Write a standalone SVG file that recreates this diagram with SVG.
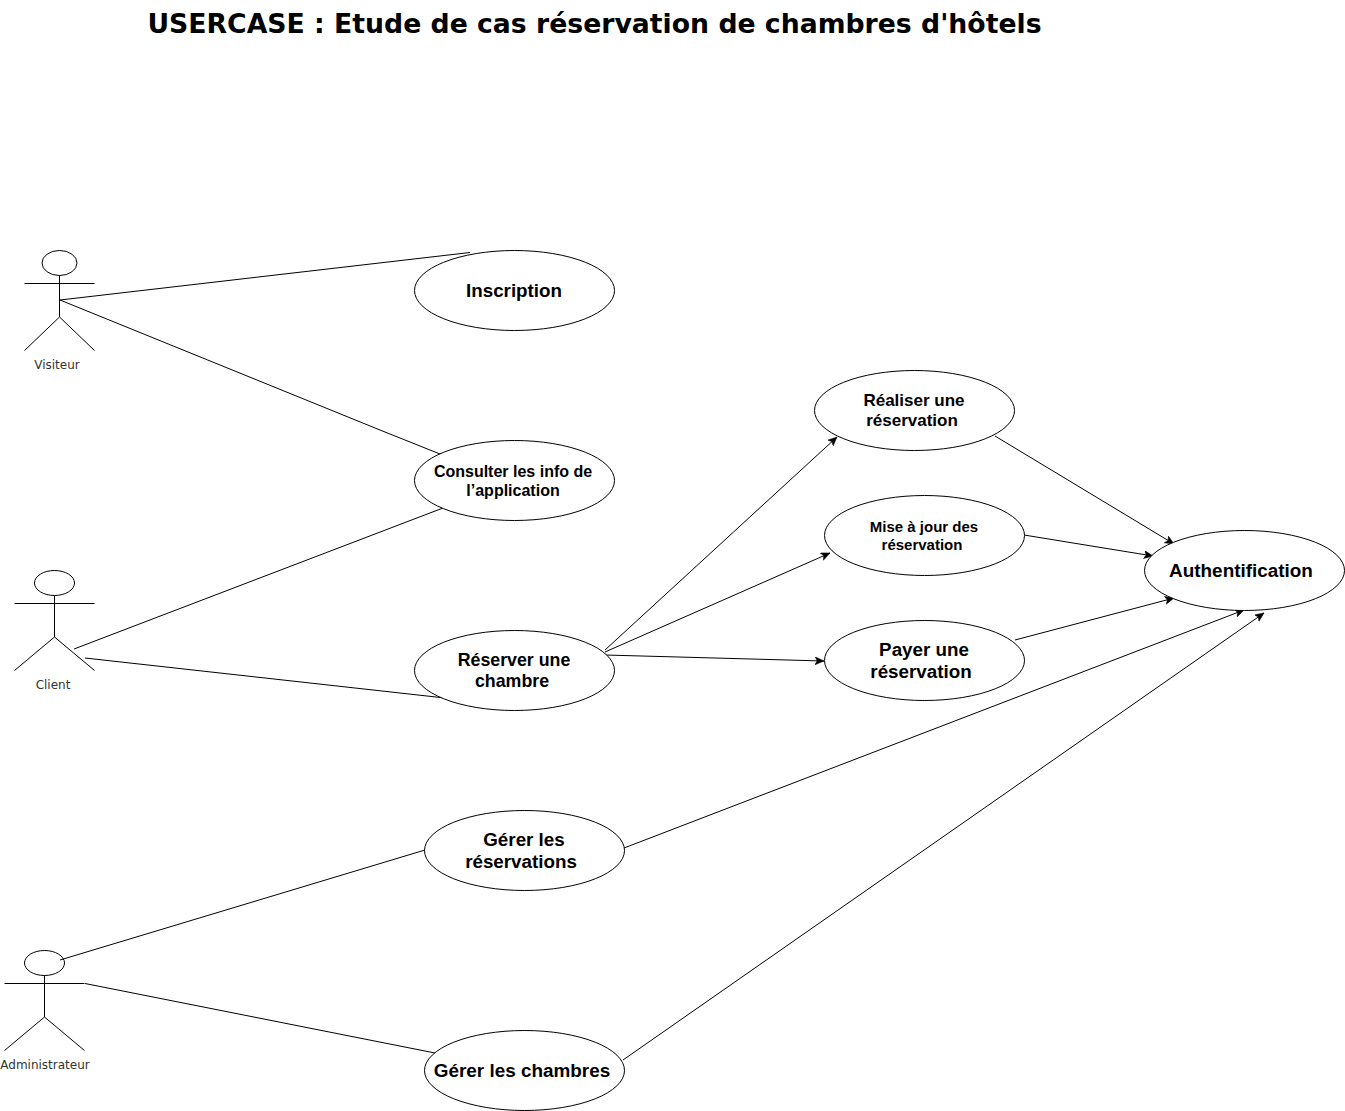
<svg xmlns="http://www.w3.org/2000/svg" width="1345" height="1111" viewBox="0 0 1345 1111">
<defs>
<marker id="arrow" markerUnits="userSpaceOnUse" markerWidth="12" markerHeight="10" refX="9" refY="4" orient="auto"><path d="M0 0L9 4L0 8L2.2 4Z" fill="#000" stroke="#000" stroke-width="0.5"/></marker>
</defs>
<style>
.s{fill:none;stroke:#000;stroke-width:1}
.e{fill:#fff;stroke:#000;stroke-width:1}
.h{fill:none;stroke:#000;stroke-width:1}
.a{fill:none;stroke:#000;stroke-width:1;marker-end:url(#arrow)}
text{font-family:"Liberation Sans",Arial,sans-serif;font-weight:700;fill:#000;text-anchor:middle}
.lab{font-family:"DejaVu Sans",sans-serif;font-weight:400;font-size:12px;fill:#333}
</style>
<rect width="1345" height="1111" fill="#fff"/>
<text id="title" x="594.500" y="33" style="font-family:'DejaVu Sans',sans-serif;font-size:26.700px">USERCASE : Etude de cas réservation de chambres d'hôtels</text>
<g id="connectors">
<path class="s" d="M60 300L470 252.500"/>
<path class="s" d="M60 300L380 430L440 454"/>
<path class="s" d="M74 649L443 508"/>
<path class="s" d="M85 658L445 698"/>
<path class="s" d="M60 960L425 850"/>
<path class="s" d="M85 983.500L435 1053"/>
<path class="a" d="M605 650L837 437"/>
<path class="a" d="M605 652L830 553"/>
<path class="a" d="M605 655L824 661"/>
<path class="a" d="M995 436L1174 544"/>
<path class="a" d="M1024 535L1153 556"/>
<path class="a" d="M1015 640L1174 598"/>
<path class="a" d="M624 848L1244 610"/>
<path class="a" d="M623 1060L1264 613"/>
</g>
<g id="actor-visiteur"><ellipse class="h" cx="59.500" cy="263" rx="17.500" ry="12.500"/><path class="s" d="M59.500 275.500V317M24.500 283.500H94.500M59.500 317L24.500 350.500M59.500 317L94.500 350.500"/><text class="lab" x="57" y="369">Visiteur</text></g>
<g id="actor-client"><ellipse class="h" cx="54.500" cy="583" rx="20" ry="12.500"/><path class="s" d="M54.500 595.500V637M14.500 603.500H94.500M54.500 637L14.500 670.500M54.500 637L94.500 670.500"/><text class="lab" x="53" y="689">Client</text></g>
<g id="actor-admin"><ellipse class="h" cx="44.500" cy="963" rx="20" ry="12.500"/><path class="s" d="M44.500 975.500V1017M4.500 983.500H84.500M44.500 1017L4.500 1050.500M44.500 1017L84.500 1050.500"/><text class="lab" x="45" y="1069">Administrateur</text></g>
<g id="uc-inscription"><ellipse class="e" cx="514.500" cy="290.500" rx="100" ry="40"/><text x="514" y="297" font-size="18.800">Inscription</text></g>
<g id="uc-consulter"><ellipse class="e" cx="514.500" cy="480.500" rx="100" ry="40"/><text x="513" y="477" font-size="16">Consulter les info de</text><text x="513" y="496" font-size="16">l’application</text></g>
<g id="uc-reserver"><ellipse class="e" cx="514.500" cy="670.500" rx="100" ry="40"/><text x="514" y="666" font-size="17.800">Réserver une</text><text x="512" y="687" font-size="17.800">chambre</text></g>
<g id="uc-realiser"><ellipse class="e" cx="914.500" cy="410.500" rx="100" ry="40"/><text x="914" y="406" font-size="17">Réaliser une</text><text x="912" y="426" font-size="17">réservation</text></g>
<g id="uc-maj"><ellipse class="e" cx="924.500" cy="535.500" rx="100" ry="40"/><text x="924" y="532" font-size="15">Mise à jour des</text><text x="922" y="550" font-size="15">réservation</text></g>
<g id="uc-payer"><ellipse class="e" cx="924.500" cy="660.500" rx="100" ry="40"/><text x="924" y="656" font-size="18.800">Payer une</text><text x="921" y="678" font-size="18.800">réservation</text></g>
<g id="uc-auth"><ellipse class="e" cx="1244.500" cy="570.500" rx="100" ry="40"/><text x="1241" y="577" font-size="18.900">Authentification</text></g>
<g id="uc-gerer-res"><ellipse class="e" cx="524.500" cy="850.500" rx="100" ry="40"/><text x="524" y="846" font-size="18.800">Gérer les</text><text x="521" y="868" font-size="18.800">réservations</text></g>
<g id="uc-gerer-ch"><ellipse class="e" cx="524.500" cy="1070.500" rx="100" ry="40"/><text x="522" y="1077" font-size="18.900">Gérer les chambres</text></g>
</svg>
